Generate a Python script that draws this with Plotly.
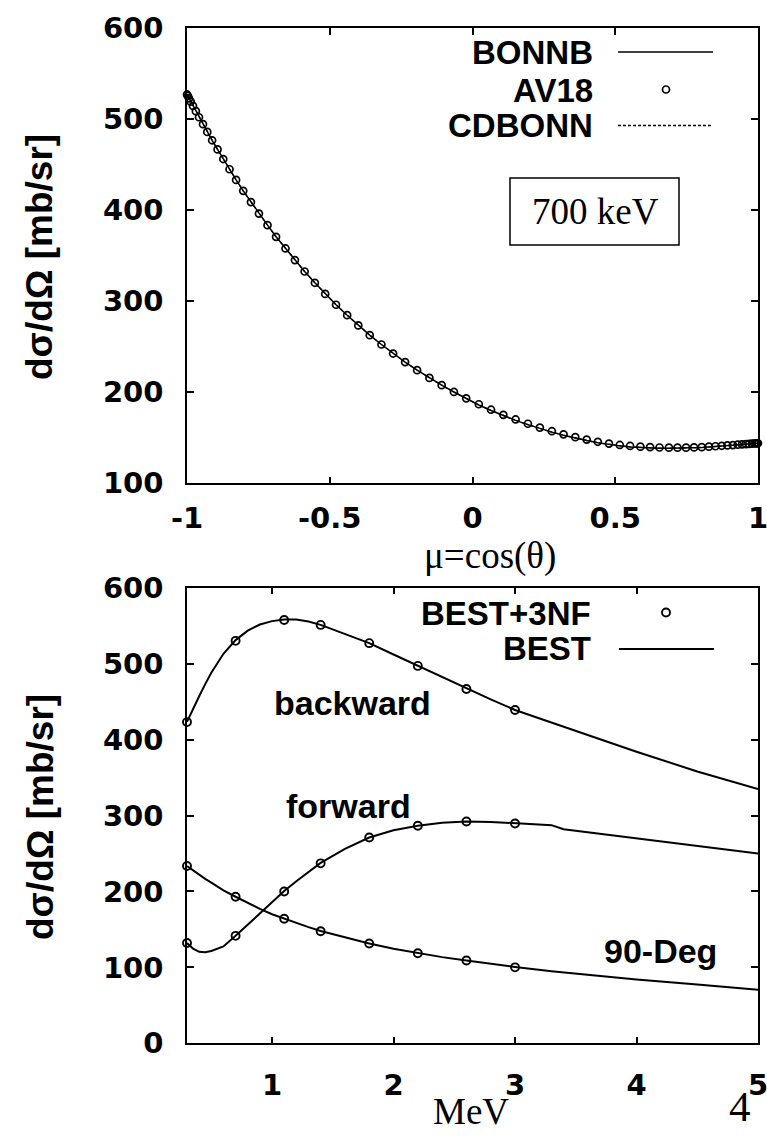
import plotly.graph_objects as go

# ---------------- data: top panel (700 keV angular distribution) ----------------
mu = [-0.9999, -0.997, -0.993, -0.987, -0.979, -0.969, -0.958, -0.944, -0.929, -0.912,
      -0.893, -0.873, -0.851, -0.828, -0.803, -0.776, -0.748, -0.718, -0.688, -0.655,
      -0.622, -0.588, -0.552, -0.516, -0.478, -0.439, -0.400, -0.360, -0.319, -0.278,
      -0.236, -0.194, -0.151, -0.108, -0.065, -0.022,
      0.022, 0.065, 0.108, 0.151, 0.194, 0.236, 0.278, 0.319, 0.360, 0.400,
      0.439, 0.478, 0.516, 0.552, 0.588, 0.622, 0.655, 0.688, 0.718, 0.748,
      0.776, 0.803, 0.828, 0.851, 0.873, 0.893, 0.912, 0.929, 0.944, 0.958,
      0.969, 0.979, 0.987, 0.993, 0.997, 0.9999]

av18 = [527.0, 525.3, 522.7, 519.1, 514.4, 508.7, 502.0, 494.4, 485.9, 476.7,
        466.7, 456.1, 444.9, 433.2, 421.2, 408.8, 396.2, 383.5, 370.7, 357.9,
        345.1, 332.6, 320.2, 308.0, 296.1, 284.6, 273.4, 262.7, 252.4, 242.5,
        233.1, 224.2, 215.7, 207.8, 200.3, 193.3,
        186.8, 180.8, 175.2, 170.1, 165.4, 161.1, 157.2, 153.8, 150.7, 148.0,
        145.6, 143.6, 142.1, 141.0, 140.2, 139.8, 139.3, 139.1, 139.1, 139.1,
        139.4, 139.7, 140.2, 140.7, 141.2, 141.6, 142.0, 142.4, 142.7, 143.0,
        143.2, 143.5, 143.7, 143.8, 144.0, 144.0]

bonnb = [527.0, 525.3, 522.7, 519.1, 514.4, 508.7, 502.0, 494.4, 485.9, 476.7,
         466.7, 456.1, 444.9, 433.2, 421.2, 408.8, 396.2, 383.5, 370.7, 357.9,
         345.1, 332.6, 320.2, 308.0, 296.1, 284.6, 273.4, 262.7, 252.4, 242.5,
         233.1, 224.2, 215.7, 207.8, 200.3, 193.3,
         186.0, 180.0, 174.3, 169.1, 164.4, 160.1, 156.2, 152.8, 149.7, 147.0,
         144.6, 142.6, 141.1, 140.0, 139.3, 138.9, 138.5, 138.4, 138.5, 138.6,
         139.0, 139.4, 139.9, 140.4, 141.0, 141.4, 141.9, 142.3, 142.6, 142.9,
         143.1, 143.4, 143.6, 143.8, 143.9, 144.0]

cdbonn = [527.0, 525.3, 522.7, 519.1, 514.4, 508.7, 502.0, 494.4, 485.9, 476.7,
          466.7, 456.1, 444.9, 433.2, 421.2, 408.8, 396.2, 383.5, 370.7, 357.9,
          345.1, 332.6, 320.2, 308.0, 296.1, 284.6, 273.4, 262.7, 252.4, 242.5,
          233.1, 224.2, 215.7, 207.8, 200.3, 193.3,
          186.0, 180.0, 174.3, 169.1, 164.4, 160.1, 156.2, 152.8, 149.7, 147.0,
          144.6, 142.6, 141.1, 140.0, 139.3, 138.9, 138.5, 138.4, 138.5, 138.6,
          139.0, 139.4, 139.9, 140.4, 141.0, 141.4, 141.9, 142.3, 142.6, 142.9,
          143.1, 143.4, 143.6, 143.8, 143.9, 144.0]

# ---------------- data: bottom panel (energy dependence) ----------------
e_3nf = [0.3, 0.7, 1.1, 1.4, 1.8, 2.2, 2.6, 3.0]
back_3nf = [423.0, 530.0, 557.5, 551.0, 527.0, 497.0, 466.5, 439.0]
fwd_3nf = [132.0, 141.5, 200.0, 237.0, 271.0, 286.5, 292.0, 289.5]
deg90_3nf = [233.5, 193.0, 164.0, 147.5, 131.5, 118.5, 109.0, 100.0]

e_best = [0.3, 0.35, 0.4, 0.45, 0.5, 0.6, 0.7, 0.8, 0.9, 1.0, 1.1, 1.2, 1.3, 1.4,
          1.6, 1.8, 2.0, 2.2, 2.4, 2.6, 2.8, 3.0, 3.3, 3.4, 4.0, 4.5, 5.0]
back_best = [423.5, 441.0, 457.0, 473.0, 488.0, 513.0, 531.0, 543.5, 551.5, 556.0,
             558.0, 558.0, 555.5, 551.0, 539.5, 527.0, 512.0, 497.0, 482.0, 467.0,
             453.0, 439.0, 422.5, 417.5, 384.0, 358.0, 335.0]
fwd_best = [132.0, 124.5, 120.5, 120.0, 121.5, 127.5, 141.5, 156.0, 170.5, 186.0,
            200.5, 213.5, 226.0, 237.5, 256.0, 271.0, 280.5, 286.5, 290.5, 292.0,
            291.5, 289.5, 287.3, 282.0, 270.0, 260.0, 250.0]
deg90_best = [233.5, 227.5, 222.0, 216.5, 211.5, 201.5, 193.0, 184.5, 177.0, 170.0,
              164.0, 158.5, 153.0, 148.0, 139.5, 131.5, 124.5, 118.5, 113.5, 109.0,
              104.5, 100.5, 95.0, 93.5, 84.0, 77.5, 70.5]

top_xticks = [-1, -0.5, 0, 0.5, 1]
top_xticktext = ["-1", "-0.5", "0", "0.5", "1"]
top_yticks = [100, 200, 300, 400, 500, 600]
bot_xticks = [1, 2, 3, 4, 5]
bot_yticks = [0, 100, 200, 300, 400, 500, 600]

# ---------------- layout helpers (pixel -> paper) ----------------
W, H = 767, 1137
def px(x):
    return x / W
def py(y):
    return 1 - y / H

BLACK = "black"
TICKFONT = dict(family="DejaVu Sans", size=29, color=BLACK, weight="bold")
SANSB = dict(family="Liberation Sans", size=33, color=BLACK, weight="bold")
SERIF = dict(family="Liberation Serif", size=37, color=BLACK)

fig = go.Figure()

# top panel
fig.add_trace(go.Scatter(x=mu, y=cdbonn, mode="lines", name="CDBONN",
                         line=dict(color=BLACK, width=1.3, dash="3px,2px"),
                         xaxis="x", yaxis="y", showlegend=False))
fig.add_trace(go.Scatter(x=mu, y=bonnb, mode="lines", name="BONNB",
                         line=dict(color=BLACK, width=1.5),
                         xaxis="x", yaxis="y", showlegend=False))
fig.add_trace(go.Scatter(x=mu, y=av18, mode="markers", name="AV18",
                         marker=dict(symbol="circle-open", size=7, color=BLACK,
                                     line=dict(width=1.7, color=BLACK)),
                         cliponaxis=False, xaxis="x", yaxis="y", showlegend=False))

# bottom panel
for yy, nm in [(back_best, "backward"), (fwd_best, "forward"), (deg90_best, "90-Deg")]:
    fig.add_trace(go.Scatter(x=e_best, y=yy, mode="lines", name="BEST " + nm,
                             line=dict(color=BLACK, width=2),
                             xaxis="x2", yaxis="y2", showlegend=False))
for yy, nm in [(back_3nf, "backward"), (fwd_3nf, "forward"), (deg90_3nf, "90-Deg")]:
    fig.add_trace(go.Scatter(x=e_3nf, y=yy, mode="markers", name="BEST+3NF " + nm,
                             marker=dict(symbol="circle-open", size=8, color=BLACK,
                                         line=dict(width=1.9, color=BLACK)),
                             cliponaxis=False, xaxis="x2", yaxis="y2", showlegend=False))

axis_common = dict(ticks="inside", ticklen=7, tickwidth=1.5, tickcolor=BLACK,
                   showline=True, linecolor=BLACK, linewidth=1.5, mirror="allticks",
                   showgrid=False, zeroline=False, tickfont=TICKFONT,
                   automargin=False, ticklabeloverflow="allow")

fig.update_layout(
    template="none",
    width=W, height=H,
    margin=dict(l=0, r=0, t=0, b=0, pad=0),
    paper_bgcolor="white", plot_bgcolor="white",
    showlegend=False,
    xaxis=dict(domain=[px(187), px(758)], range=[-1, 1], anchor="y",
               tickvals=top_xticks, ticktext=top_xticktext, ticklabelstandoff=8,
               **axis_common),
    yaxis=dict(domain=[py(483.3), py(28)], range=[100, 600], anchor="x",
               tickvals=top_yticks, ticklabelstandoff=16, **axis_common),
    xaxis2=dict(domain=[px(187), px(758)], range=[0.3, 5], anchor="y2",
                tickvals=bot_xticks, ticklabelstandoff=15, **axis_common),
    yaxis2=dict(domain=[py(1043.3), py(587.7)], range=[0, 600], anchor="x2",
                tickvals=bot_yticks, ticklabelstandoff=16, **axis_common),
)

ann = []
# y axis titles
for yc in (257, 817):
    ann.append(dict(text="dσ/dΩ [mb/sr]", x=px(40), y=py(yc), xref="paper", yref="paper",
                    textangle=-90, showarrow=False, xanchor="center", yanchor="middle",
                    font=dict(family="Liberation Sans", size=37, color=BLACK, weight="bold")))
# x axis titles
ann.append(dict(text="μ=cos(θ)", x=px(490), y=py(556), xref="paper", yref="paper",
                showarrow=False, xanchor="center", yanchor="middle", font=SERIF, borderpad=0))
ann.append(dict(text="MeV", x=px(471), y=py(1111), xref="paper", yref="paper",
                showarrow=False, xanchor="center", yanchor="middle", font=SERIF))
ann.append(dict(text="4", x=px(740), y=py(1106), xref="paper", yref="paper",
                showarrow=False, xanchor="center", yanchor="middle",
                font=dict(family="Liberation Serif", size=43, color=BLACK)))
# top legend texts
for txt, yc in [("BONNB", 53), ("AV18", 90), ("CDBONN", 125)]:
    ann.append(dict(text=txt, x=px(595), y=py(yc), xref="paper", yref="paper",
                    showarrow=False, xanchor="right", yanchor="middle", font=SANSB))
# bottom legend texts
for txt, yc in [("BEST+3NF", 613), ("BEST", 648)]:
    ann.append(dict(text=txt, x=px(593), y=py(yc), xref="paper", yref="paper",
                    showarrow=False, xanchor="right", yanchor="middle", font=SANSB))
# energy box label
ann.append(dict(text="700 keV", x=px(595), y=py(212), xref="paper", yref="paper",
                showarrow=False, xanchor="center", yanchor="middle", font=SERIF))
# curve labels (data coordinates)
SANSB2 = dict(family="Liberation Sans", size=34, color=BLACK, weight="bold")
ann.append(dict(text="backward", x=1.66, y=448, xref="x2", yref="y2", showarrow=False,
                xanchor="center", yanchor="middle", font=SANSB2))
ann.append(dict(text="forward", x=1.63, y=313, xref="x2", yref="y2", showarrow=False,
                xanchor="center", yanchor="middle", font=SANSB2))
ann.append(dict(text="90-Deg", x=4.2, y=122, xref="x2", yref="y2", showarrow=False,
                xanchor="center", yanchor="middle", font=SANSB2))
fig.update_layout(annotations=ann)

shapes = [
    # top legend samples
    dict(type="line", xref="paper", yref="paper", x0=px(618), x1=px(713), y0=py(52), y1=py(52),
         line=dict(color=BLACK, width=1.5)),
    dict(type="circle", xref="paper", yref="paper", x0=px(662.5), x1=px(669.5),
         y0=py(93), y1=py(86), line=dict(color=BLACK, width=1.7)),
    dict(type="line", xref="paper", yref="paper", x0=px(618), x1=px(713), y0=py(125.5), y1=py(125.5),
         line=dict(color=BLACK, width=1.3, dash="3px,2px")),
    # energy box
    dict(type="rect", xref="paper", yref="paper", x0=px(510), x1=px(679), y0=py(245), y1=py(178),
         line=dict(color=BLACK, width=1.5), fillcolor="rgba(0,0,0,0)"),
    # bottom legend samples
    dict(type="circle", xref="paper", yref="paper", x0=px(662), x1=px(670),
         y0=py(616.5), y1=py(608.5), line=dict(color=BLACK, width=1.9)),
    dict(type="line", xref="paper", yref="paper", x0=px(619), x1=px(714), y0=py(649), y1=py(649),
         line=dict(color=BLACK, width=2)),
]
fig.update_layout(shapes=shapes)

fig.write_html("out.html")
